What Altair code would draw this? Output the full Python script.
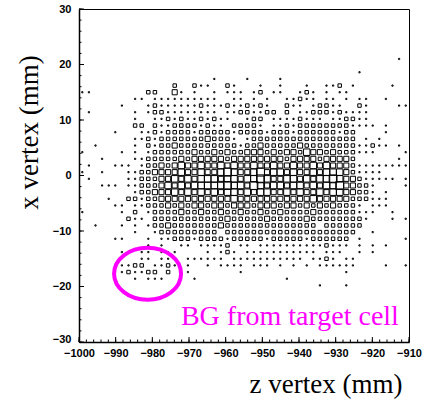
import altair as alt
import pandas as pd

# ---- histogram binning (50 x 50 bins) ----
Z_LO, Z_HI, NZ = -1000.0, -910.0, 50
X_LO, X_HI, NX = -30.0, 30.0, 50
FIRST_ROW = 7  # first row index (from top) that is listed below

# box-size level per cell ('.' = empty, 1 = dot ... 5 = largest box)
rows = [
    ".......... .......... .......... .......... ........1.",
    ".......... .......... .......... .......... ..........",
    ".......... .......... .......... .......... ..1.......",
    ".......... .......... 1....1.... 1......... ..........",
    ".......... ....2..211 ..21...1.. 1...1..112 .1.....1..",
    "11........ 22..31.1.. 1.111.12.1 1..121.1.1 1.........",
    "........11 .111111111 1..11.1.1. .11211.11. 1.11..1...",
    "......1... 1211111121 112112121. .211.12211 ..21....11",
    ".1......1. 1221111111 1.11221122 .2.1122212 1111......",
    "........1. .112121121 211..122.1 1112111.11 2211......",
    "........22 .211222212 11.22221.1 1212222222 21111.1...",
    ".....1...1 1212222122 2221222212 2212222221 22....1...",
    "........11 2122222223 2221.12222 2222222222 22.1.1....",
    "..1.....1. 2122322222 2222122322 2223222222 2211211.1.",
    "1.....1.1. 1222222322 3232233323 2332433232 22111....1",
    "...1....11 2222232333 3323333333 3233332333 32......1.",
    ".1...111.1 2232343343 3434334334 3343343433 3211111111",
    "1..1...112 2333343343 3454334534 4343343444 321111....",
    ".1.....112 2233434344 4344344543 3443434454 33211111.1",
    "...111.112 2234343444 4454435434 4344343445 33221....1",
    "........12 2333434343 4344343443 3434334344 33221.1...",
    "....1..221 2233333333 3334333333 3333343333 3222111...",
    ".....11.11 2223232332 3323332333 2332323232 221.111...",
    "1.....1.2. 1222232232 2322322322 3222232222 22111..1..",
    ".......211 .222222222 2232222232 2222322222 2221...1.1",
    "..1...1.1. 1223222222 2322222222 222222.222 222.......",
    "........1. .122222222 2.22222222 2222222222 22..1.....",
    ".....11... 1.11222122 2212222212 2222122222 2.1......1",
    ".......... 1.1..11.11 112.11.111 1111111211 1.1.1.1...",
    "......1..1 1.111....1 .121.11111 111111.111 ..1.1.....",
    ".........1 1.11..1111 11.1111111 1111.1121. 11........",
    "......1122 .1121.1..1 .1111.111. 1.1.1.1111 11....1..1",
    "......1211 22.2..1... ....1..... .......... 1.........",
    "........1. 111....1.. .......... .1........ ..........",
    ".......... .......... .......... ......1... 1.........",
]

x_ticks_major = [-1000, -990, -980, -970, -960, -950, -940, -930, -920, -910]
y_ticks_major = [-30, -20, -10, 0, 10, 20, 30]
x_ticks_minor = list(range(-1000, -909, 2))
y_ticks_minor = list(range(-30, 31, 2))

ellipse_z = [-981.3]
ellipse_x = [-17.7]
label_z = [-972.2]
label_x = [-26.9]
label_text = ["BG from target cell"]

# ---- build cell table ----
dz = (Z_HI - Z_LO) / NZ
dx = (X_HI - X_LO) / NX
recs = []
for i, s in enumerate(rows):
    s = s.replace(" ", "")
    r = FIRST_ROW + i
    for c, ch in enumerate(s):
        if ch != ".":
            recs.append({"z": Z_LO + dz * (c + 0.5),
                         "x": X_HI - dx * (r + 0.5),
                         "level": int(ch)})
cells = pd.DataFrame(recs)

W, H = 330, 333
zscale = alt.Scale(domain=[Z_LO, Z_HI], nice=False, zero=False)
xscale = alt.Scale(domain=[X_LO, X_HI], nice=False, zero=False)

boxes = alt.Chart(cells).mark_square(filled=False, color="black", strokeWidth=1, opacity=1).encode(
    x=alt.X("z:Q", scale=zscale,
            axis=alt.Axis(values=x_ticks_major, format="d", labelFlush=False, labelPadding=5,
                          title="z vertex (mm)", titleX=323, titleY=50,
                          titleAlign="right", titleBaseline="alphabetic")),
    y=alt.Y("x:Q", scale=xscale,
            axis=alt.Axis(values=y_ticks_major, format="d", labelPadding=8,
                          labelOffset={"condition": {"test": "datum.value == -30", "value": -3}, "value": 0},
                          title="x vertex (mm)", titleAngle=270, titleX=-42, titleY=123,
                          titleAlign="center", titleBaseline="alphabetic")),
    size=alt.Size("level:Q", scale=alt.Scale(domain=[1, 2, 3, 4, 5], range=[1.5, 12, 26, 42, 62]),
                  legend=None),
)

def xt(vals, ln):
    return alt.Chart(pd.DataFrame({"t": vals})).mark_rule(color="black", strokeWidth=1).encode(
        x=alt.X("t:Q", scale=zscale, axis=None), y=alt.value(H), y2=alt.value(H - ln))

def yt(vals, ln):
    return alt.Chart(pd.DataFrame({"t": vals})).mark_rule(color="black", strokeWidth=1).encode(
        y=alt.Y("t:Q", scale=xscale, axis=None), x=alt.value(0), x2=alt.value(ln))

ell_path = ("M 1 0 C 1 0.43 0.5523 0.776 0 0.776 C -0.5523 0.776 -1 0.43 -1 0 "
            "C -1 -0.43 -0.5523 -0.776 0 -0.776 C 0.5523 -0.776 1 -0.43 1 0 Z")
ellipse = alt.Chart(pd.DataFrame({"z": ellipse_z, "x": ellipse_x})).mark_point(
    shape=ell_path, size=4489, filled=False, stroke="#ff00ff", strokeWidth=4, opacity=1
).encode(x=alt.X("z:Q", scale=zscale, axis=None), y=alt.Y("x:Q", scale=xscale, axis=None))

label = alt.Chart(pd.DataFrame({"z": label_z, "x": label_x, "t": label_text})).mark_text(
    align="left", baseline="alphabetic", font="Liberation Serif", fontSize=28, color="#ff00ff"
).encode(x=alt.X("z:Q", scale=zscale, axis=None), y=alt.Y("x:Q", scale=xscale, axis=None), text="t:N")

chart = alt.layer(
    boxes, xt(x_ticks_minor, 2.5), xt(x_ticks_major, 5), yt(y_ticks_minor, 2.5), yt(y_ticks_major, 5),
    ellipse, label
).resolve_axis(x="independent", y="independent").properties(
    width=W, height=H,
    autosize=alt.AutoSizeParams(type="none"),
    padding={"left": 79, "top": 9, "right": 15, "bottom": 59},
    background="white",
).configure_view(stroke="black", strokeWidth=1).configure_axis(
    grid=False, ticks=False, domainColor="black", domainWidth=1.5,
    labelFont="Liberation Sans", labelFontWeight="bold", labelFontSize=11, labelColor="black",
    titleFont="Liberation Serif", titleFontWeight="normal", titleFontSize=27, titleColor="black",
)

chart.save("out.html", embed_options={"renderer": "svg", "actions": False})
